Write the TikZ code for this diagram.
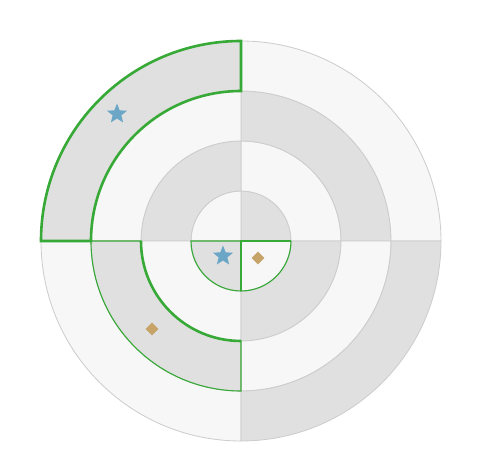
\documentclass[tikz,border=0pt]{standalone}
\usetikzlibrary{shapes.geometric,calc}
\definecolor{cdark}{HTML}{E0E0E0}
\definecolor{clight}{HTML}{F7F7F7}
\definecolor{cgrid}{HTML}{CCCCCC}
\definecolor{cgreen}{HTML}{36A936}
\definecolor{cstar}{HTML}{6BA6C7}
\definecolor{cdiam}{HTML}{C6A367}
\tikzset{
  gridline/.style={draw=cgrid,line width=0.8pt},
  wallthick/.style={draw=cgreen,line width=2.6pt,line join=miter},
  wallthin/.style={draw=cgreen,line width=1.1pt},
  starmark/.style={star,star points=5,star point ratio=2.3,fill=cstar,inner sep=0pt,minimum size=21pt},
  diammark/.style={diamond,fill=cdiam,inner sep=0pt,minimum size=13pt},
}
\begin{document}
\begin{tikzpicture}[x=1pt,y=1pt]
\useasboundingbox (0,0) rectangle (499,471);
\fill[white] (0,0) rectangle (499,471);
\coordinate (C) at (241,230);
% sectors: ring inner radius, outer radius, start angle, colour
\foreach \ri/\ro/\a/\col in {
  0/50/0/cdark, 0/50/90/clight, 0/50/180/cdark, 0/50/270/clight,
  50/100/0/clight, 50/100/90/cdark, 50/100/180/clight, 50/100/270/cdark,
  100/150/0/cdark, 100/150/90/clight, 100/150/180/cdark, 100/150/270/clight,
  150/200/0/clight, 150/200/90/cdark, 150/200/180/clight, 150/200/270/cdark}{
  \pgfmathsetmacro{\b}{\a+90}
  \path[fill=\col,gridline] ($(C)+(\a:\ri)$) arc[start angle=\a,end angle=\b,radius=\ri]
    -- ($(C)+(\b:\ro)$) arc[start angle=\b,end angle=\a,radius=\ro] -- cycle;
}
% thin green outlines
\draw[wallthin] ($(C)+(180:100)$) arc[start angle=180,end angle=270,radius=100]
  -- ($(C)+(270:150)$) arc[start angle=270,end angle=180,radius=150] -- cycle;
\draw[wallthin] (C) -- ($(C)+(180:50)$) arc[start angle=180,end angle=360,radius=50];
% thick green walls
\draw[wallthick] ($(C)+(90:200)$) arc[start angle=90,end angle=180,radius=200]
  -- ($(C)+(180:150)$) arc[start angle=180,end angle=90,radius=150] -- cycle;
\draw[wallthick] ($(C)+(180:100)$) arc[start angle=180,end angle=270,radius=100];
\draw[wallthick] ($(C)+(0:50)$) -- (C) -- ($(C)+(270:50)$);
% markers
\node[starmark] (s1) at (117,357) {};
\node[starmark] (s2) at (223,215) {};
\node[diammark] (d1) at (258,213) {};
\node[diammark] (d2) at (152,142) {};
\end{tikzpicture}
\end{document}
